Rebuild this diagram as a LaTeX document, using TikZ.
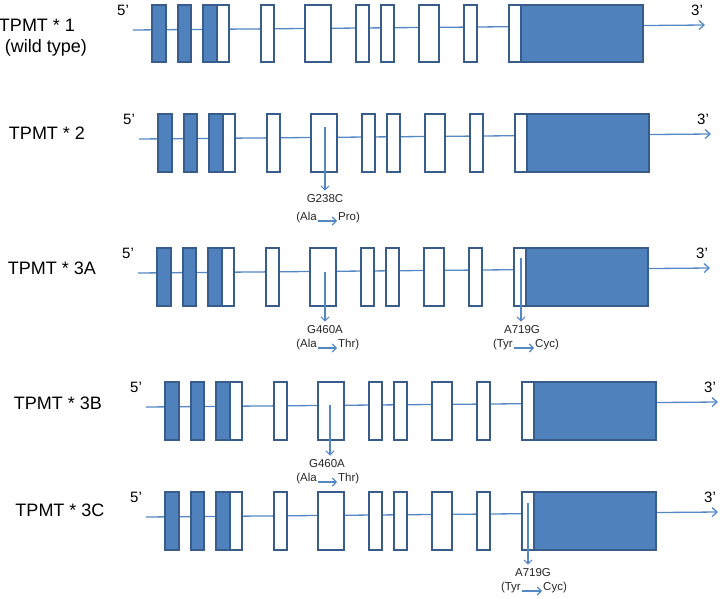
\documentclass[tikz,border=0pt]{standalone}
\usepackage{fontspec}
\setmainfont{Liberation Sans}
\usetikzlibrary{arrows.meta}
\definecolor{exonblue}{RGB}{79,129,189}
\definecolor{exonedge}{RGB}{56,93,138}
\definecolor{lineblue}{RGB}{84,136,197}

\begin{document}
\begin{tikzpicture}[x=1pt,y=-1pt,
  intron/.style={lineblue,line width=1.3pt,-{Straight Barb[length=5pt,width=9pt]}},
  exon/.style={draw=exonedge,line width=2pt,fill=white},
  coding/.style={exon,fill=exonblue},
  snp/.style={lineblue,line width=1.1pt,-{Straight Barb[length=4pt,width=8pt]}},
  endlab/.style={font=\fontsize{15}{15}\selectfont,inner sep=0pt},
  rowlab/.style={font=\fontsize{18}{21}\selectfont,inner sep=0pt},
  snplab/.style={font=\fontsize{11.5}{13}\selectfont,inner sep=0pt,text=black!85}]
  \useasboundingbox (0,0) rectangle (720,599);
  % gene rows: row / first exon x / box top
  \foreach \r/\x/\y in {1/152/5, 2/158/114, 3/157/248, 4/165/382, 5/165/492}{
    \begin{scope}[shift={(\x,\y)}]
      \coordinate (s\r) at (-19,25);
      \coordinate (e\r) at (553,20);
      \draw[intron] (s\r) -- (e\r);
      \foreach \a/\b in {65/77,109/122,153/179,204/217,229/242,267/287,312/325,357/369}
        \draw[exon] (\a,0) rectangle (\b,57.5);
      \foreach \a/\b in {0/14,26/39,51/65,369/491}
        \draw[coding] (\a,0) rectangle (\b,57.5);
      \node[endlab] (five\r) at (-29,5) {5’};
      \node[endlab] (three\r) at (545,5) {3’};
    \end{scope}
  }
  % allele names
  \node[rowlab] (t1) at (37,25) {TPMT * 1};
  \node[rowlab] (wt) at (46,48) {(wild type)};
  \node[rowlab] (t2) at (47,133) {TPMT * 2};
  \node[rowlab] (t3a) at (52,268) {TPMT * 3A};
  \node[rowlab] (t3b) at (58,403) {TPMT * 3B};
  \node[rowlab] (t3c) at (60,510) {TPMT * 3C};
  % *2: G238C
  \coordinate (m2) at (325,127);
  \node[snplab] (g238c) at (325,199) {G238C};
  \draw[snp,shorten >=4pt] (m2) -- (g238c.north);
  \node[snplab,anchor=east] (ala2) at (317,218) {(Ala};
  \node[snplab,anchor=west] (pro2) at (338,218) {Pro)};
  \draw[snp] ([shift={(1pt,-3pt)}]ala2.east) -- ([shift={(-1pt,-3pt)}]pro2.west);
  % *3A: G460A and A719G
  \coordinate (m3a) at (325,272);
  \node[snplab] (g460a) at (325,330) {G460A};
  \draw[snp,shorten >=4pt] (m3a) -- (g460a.north);
  \node[snplab,anchor=east] (ala3) at (317,345) {(Ala};
  \node[snplab,anchor=west] (thr3) at (338,345) {Thr)};
  \draw[snp] ([shift={(1pt,-3pt)}]ala3.east) -- ([shift={(-1pt,-3pt)}]thr3.west);
  \coordinate (n3a) at (521,258);
  \node[snplab] (a719g) at (522,330) {A719G};
  \draw[snp,shorten >=4pt] (n3a) -- (a719g.north -| n3a);
  \node[snplab,anchor=east] (tyr3) at (513,345) {(Tyr};
  \node[snplab,anchor=west] (cyc3) at (535,345) {Cyc)};
  \draw[snp] ([shift={(1pt,-3pt)}]tyr3.east) -- ([shift={(-1pt,-3pt)}]cyc3.west);
  % *3B: G460A
  \coordinate (m3b) at (330,405);
  \node[snplab] (g460b) at (327,464) {G460A};
  \draw[snp,shorten >=4pt] (m3b) -- (g460b.north -| m3b);
  \node[snplab,anchor=east] (ala4) at (317,479) {(Ala};
  \node[snplab,anchor=west] (thr4) at (338,479) {Thr)};
  \draw[snp] ([shift={(1pt,-3pt)}]ala4.east) -- ([shift={(-1pt,-3pt)}]thr4.west);
  % *3C: A719G
  \coordinate (m3c) at (528,503);
  \node[snplab] (a719c) at (533,573) {A719G};
  \draw[snp,shorten >=4pt] (m3c) -- (a719c.north -| m3c);
  \node[snplab,anchor=east] (tyr5) at (521,588) {(Tyr};
  \node[snplab,anchor=west] (cyc5) at (543,588) {Cyc)};
  \draw[snp] ([shift={(1pt,-3pt)}]tyr5.east) -- ([shift={(-1pt,-3pt)}]cyc5.west);
\end{tikzpicture}
\end{document}
